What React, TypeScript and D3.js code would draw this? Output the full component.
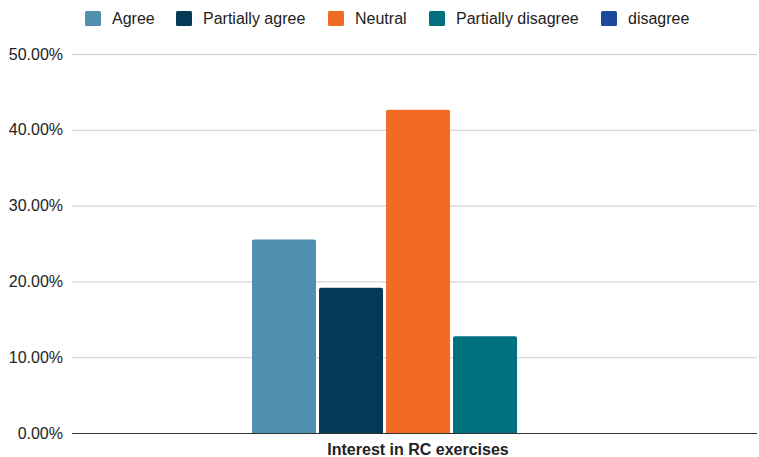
import { useEffect, useRef } from 'react';
import * as d3 from 'd3';

const categories = ['Interest in RC exercises'];
const seriesNames = ['Agree', 'Partially agree', 'Neutral', 'Partially disagree', 'disagree'];
const seriesValues = [0.2553, 0.1915, 0.4265, 0.1277, 0];
const seriesColors = ['#5090b0', '#033a55', '#f26b25', '#006f7e', '#1b4a9d'];
const yTicks = [0, 0.1, 0.2, 0.3, 0.4, 0.5];

const width = 759, height = 457;
const margin = { top: 54, right: 2, bottom: 24, left: 72 };
const font = '"Liberation Sans", Arial, sans-serif';

const App = () => {
    const ref = useRef<SVGSVGElement>(null);

    useEffect(() => {
        const svg = d3.select(ref.current);
        svg.selectAll('*').remove();

        const innerW = width - margin.left - margin.right;
        const innerH = height - margin.top - margin.bottom;

        const y = d3.scaleLinear().domain([0, 0.5]).range([innerH, 0]);
        const x0 = d3.scaleBand().domain(categories).range([0, innerW]).paddingInner(0.347).paddingOuter(0.347).align(0.51);
        const x1 = d3.scaleBand().domain(seriesNames).range([0, x0.bandwidth()]).paddingInner(0.045);

        const g = svg.append('g').attr('transform', `translate(${margin.left},${margin.top})`);

        // grid
        const yAxis = d3.axisLeft(y)
            .tickValues(yTicks)
            .tickSize(-innerW)
            .tickPadding(9)
            .tickFormat((d) => (+d * 100).toFixed(2) + '%');
        const ya = g.append('g').call(yAxis);
        ya.select('.domain').remove();
        ya.selectAll('.tick line').attr('stroke', '#cccccc').attr('stroke-width', 1);
        ya.selectAll('.tick text')
            .attr('fill', '#222')
            .style('font-family', font)
            .style('font-size', '16px');

        // bars
        const r = 2;
        g.append('g')
            .selectAll('path')
            .data(seriesNames.map((name, i) => ({ name, value: seriesValues[i], color: seriesColors[i] })))
            .join('path')
            .attr('fill', (d) => d.color)
            .attr('d', (d) => {
                const bx = (x0(categories[0]) ?? 0) + (x1(d.name) ?? 0);
                const bw = x1.bandwidth();
                const top = y(d.value);
                const bottom = y(0);
                if (bottom - top < r) return '';
                return `M${bx},${bottom}V${top + r}Q${bx},${top} ${bx + r},${top}H${bx + bw - r}Q${bx + bw},${top} ${bx + bw},${top + r}V${bottom}Z`;
            });

        // baseline
        g.append('line')
            .attr('x1', 0).attr('x2', innerW)
            .attr('y1', y(0) + 0.5).attr('y2', y(0) + 0.5)
            .attr('stroke', '#333').attr('stroke-width', 1);

        // x label
        g.append('text')
            .attr('x', (x0(categories[0]) ?? 0) + x0.bandwidth() / 2)
            .attr('y', innerH + 22)
            .attr('text-anchor', 'middle')
            .attr('fill', '#222')
            .style('font-family', font)
            .style('font-size', '16px')
            .style('font-weight', 'bold')
            .text(categories[0]);

        // legend
        const legendX = [85, 176, 328, 429, 601];
        const lg = svg.append('g');
        seriesNames.forEach((name, i) => {
            lg.append('rect')
                .attr('x', legendX[i]).attr('y', 11)
                .attr('width', 16).attr('height', 15).attr('rx', 1.5)
                .attr('fill', seriesColors[i]);
            lg.append('text')
                .attr('x', legendX[i] + 27).attr('y', 24)
                .attr('fill', '#222')
                .style('font-family', font)
                .style('font-size', '16px')
                .text(name);
        });
    }, []);

    return (
        <svg
            ref={ref}
            width={width}
            height={height}
            style={{ position: 'absolute', left: 0, top: 0, background: '#fff' }}
        />
    );
};

export default App;
